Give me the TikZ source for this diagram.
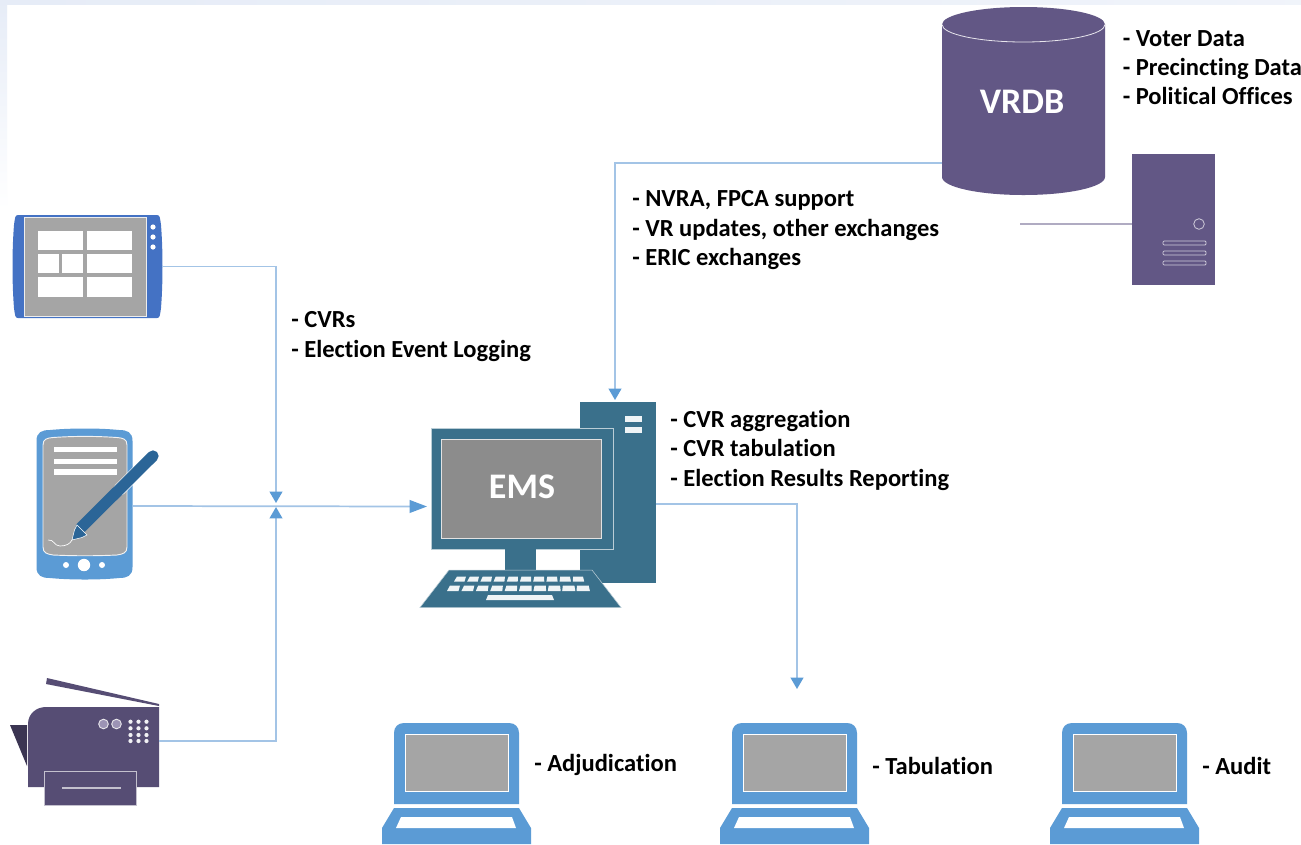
\documentclass[tikz,border=0pt]{standalone}
\usepackage{fontspec}
\setmainfont{Carlito}[Ligatures=NoCommon]
\usetikzlibrary{arrows.meta,fit,calc}
\definecolor{conn}{HTML}{A3C4E6}
\definecolor{tip}{HTML}{5B9BD5}
\definecolor{tabblue}{HTML}{4472C4}
\definecolor{lapblue}{HTML}{5B9BD5}
\definecolor{pendark}{HTML}{2B6597}
\definecolor{scr}{HTML}{A5A5A5}
\definecolor{ems}{HTML}{3A708B}
\definecolor{emsscr}{HTML}{8C8C8C}
\definecolor{vr}{HTML}{625785}
\definecolor{prn}{HTML}{564D74}
\definecolor{prndark}{HTML}{3B3552}
\definecolor{prnlight}{HTML}{9C93B5}
\definecolor{wash}{HTML}{E6ECF7}
\tikzset{
  hit/.style={inner sep=0pt,outer sep=0pt,draw=none},
  link/.style={draw=conn,line width=1.3pt},
  linkhead/.style={link,-{Triangle[length=8.5pt,width=9.5pt,color=tip]}},
  linkheadlong/.style={link,-{Triangle[length=13pt,width=9.5pt,color=tip]}},
  notes/.style={anchor=north west,inner sep=0pt,align=left,font=\fontsize{18.4}{22}\selectfont\bfseries,text=black},
  onenote/.style={anchor=west,inner sep=0pt,font=\fontsize{18.4}{22}\selectfont\bfseries,text=black},
  iconlabel/.style={inner sep=0pt,font=\fontsize{27}{30}\selectfont\bfseries,text=white},
  tile/.style={fill=white,draw=none},
}
\newcommand{\rct}[5]{\fill[#5] (#1,#2) rectangle (#3,#4);}
\newcommand{\laptopicon}[1]{%
  \begin{scope}[shift={(#1,0)}]
    \fill[lapblue] (394,804) -- (394,733) .. controls (394,727) and (398,723) .. (404,723) -- (509,723) .. controls (515,723) and (519,727) .. (519,733) -- (519,804) -- cycle;
    \filldraw[fill=scr,draw=white,line width=.6pt] (405,734) rectangle (508,791);
    \fill[lapblue] (394,808) -- (519,808) -- (531,828) -- (531,844) -- (382,844) -- (382,828) -- cycle;
    \fill[white] (401,817) -- (512,817) -- (516,828) -- (396,828) -- cycle;
  \end{scope}}
\begin{document}
\begin{tikzpicture}[x=0.75pt,y=-0.75pt]
\useasboundingbox (0,0) rectangle (1301,844);
\fill[white] (0,0) rectangle (1301,844);
\fill[top color=wash,bottom color=white] (0,0) rectangle (7,210);
\fill[left color=wash,right color=wash!60!white] (0,0) rectangle (1301,4);

% tablet
\fill[tabblue] (18,215) -- (157,215) .. controls (160,215) and (160,218) .. (161,225) .. controls (163,250) and (163,283) .. (161,308) .. controls (160,315) and (160,318) .. (157,318) -- (18,318) .. controls (15,318) and (15,315) .. (14,308) .. controls (12,283) and (12,250) .. (14,225) .. controls (15,218) and (15,215) .. (18,215) -- cycle;
\filldraw[fill=scr,draw=white!80!scr,line width=.6pt] (24,217) rectangle (146,316);
\rct{38}{231}{83}{250}{tile}\rct{87}{231}{132}{250}{tile}
\rct{38}{254}{59}{273}{tile}\rct{62}{254}{83}{273}{tile}\rct{87}{254}{132}{273}{tile}
\rct{38}{277}{83}{297}{tile}\rct{87}{277}{132}{297}{tile}
\foreach \y in {227,237,247} \fill[white] (153,\y) circle[radius=2.6];
\node[hit,fit={(13,215)(162,318)}] (tablet) {};

% pen device
\fill[lapblue] (36.5,441) .. controls (36.5,432) and (42,430) .. (50,430) .. controls (70,428) and (100,428) .. (119,430) .. controls (127,430) and (132.5,432) .. (132.5,441) -- (132.5,567) .. controls (132.5,576) and (127,578) .. (119,578) .. controls (100,580) and (70,580) .. (50,578) .. controls (42,578) and (36.5,576) .. (36.5,567) -- cycle;
\filldraw[fill=scr,draw=white!85!scr,line width=.7pt] (43,445) .. controls (43,439) and (47,438) .. (53,437.5) .. controls (75,436) and (95,436) .. (117,437.5) .. controls (123,438) and (127,439) .. (127,445) -- (127,547) .. controls (127,553) and (123,554) .. (117,555) .. controls (95,556) and (75,556) .. (53,555) .. controls (47,554) and (43,553) .. (43,547) -- cycle;
\rct{54}{447}{117}{452}{tile}\rct{54}{459}{117}{464}{tile}\rct{54}{469}{117}{475}{tile}
\fill[white] (66,565) circle[radius=3];
\fill[white] (84,565) circle[radius=6.2];
\fill[white] (102,565) circle[radius=3];
\draw[white,line width=.5pt] (48,540) .. controls (54,539) and (54,546) .. (60,546) .. controls (66,546) and (70,544) .. (72,540);
\draw[white,line width=9.5pt,line cap=round] (153,456) -- (120,489);
\draw[pendark,line width=8.5pt,line cap=round] (153,456) -- (81,527.5);
\fill[pendark,draw=white,line width=.4pt] (72,540) -- (74.5,530) -- (77,525) -- (87,535) -- (82,537.5) -- cycle;
\node[hit,fit={(37,430)(133,582)}] (pen) {};

% printer
\fill[prn] (47,678) -- (159,704) -- (159,706) -- (46,684) -- cycle;
\fill[prndark] (10,725) -- (27,725) -- (27,766) -- cycle;
\fill[prn] (28,787) -- (28,724) .. controls (28,714) and (36,707) .. (46,707) -- (159,707) -- (159,787) -- cycle;
\filldraw[fill=prn,draw=white!65!prn,line width=.7pt] (44.5,771) rectangle (136,805);
\draw[white!65!prn,line width=.8pt] (62,788) -- (121,788);
\foreach \x in {103.5,116.5} \filldraw[fill=prnlight,draw=white!85!prn,line width=.7pt] (\x,724) circle[radius=4.8];
\foreach \x in {130.5,138.5,146.5} \foreach \y in {721.7,728.3,735,741} \fill[white!92!prn] (\x,\y) circle[radius=2.1];
\node[hit,fit={(28,695)(159,787)}] (printer) {};

% EMS computer
\fill[ems] (580,402) rectangle (656,583);
\fill[white!92!ems] (625,416) rectangle (642,422);
\fill[white!92!ems] (625,427) rectangle (642,433);
\filldraw[fill=ems,draw=white!65!ems,line width=.5pt] (431,428) rectangle (613,549);
\filldraw[fill=emsscr,draw=white!75!emsscr,line width=.7pt] (441.5,439.5) rectangle (601,538.5);
\fill[ems] (505,549) rectangle (536,570);
\filldraw[fill=ems,draw=white!65!ems,line width=.4pt] (449,570) -- (592,570) -- (621,607.5) -- (420,607.5) -- cycle;
\foreach \i in {0,...,9} {
  \fill[white!92!ems] ({457+\i*12.9},576.5) -- ({466+\i*13},576.5) -- ({464.5+\i*13.3},581.5) -- ({454+\i*13.2},581.5) -- cycle;
  \fill[white!92!ems] ({450+\i*14.1},585.5) -- ({460+\i*14.3},585.5) -- ({458.5+\i*14.6},591) -- ({447+\i*14.4},591) -- cycle;
}
\fill[white!92!ems] (488,595) -- (552,595) -- (554,600) -- (486,600) -- cycle;
\node[iconlabel] (emslabel) at (522,487) {EMS};
\node[hit,fit={(574,400)(656,608)}] (tower) {};
\node[hit,fit={(427,464)(613,549)}] (monitor) {};

% VRDB
\fill[vr] (942,24.5) .. controls (942,14.8) and (978.5,7) .. (1023.5,7) .. controls (1068.5,7) and (1105,14.8) .. (1105,24.5) -- (1105,177) .. controls (1105,187) and (1068.5,195) .. (1023.5,195) .. controls (978.5,195) and (942,187) .. (942,177) -- cycle;
\draw[white!85!vr,line width=.6pt] (942,24.5) .. controls (942,34.2) and (978.5,42) .. (1023.5,42) .. controls (1068.5,42) and (1105,34.2) .. (1105,24.5);
\node[iconlabel] (vrdblabel) at (1022,102) {VRDB};
\node[hit,fit={(942,132)(1105,194)}] (vrdb) {};

% server
\fill[vr] (1132,154) rectangle (1215,285);
\draw[white!70!vr,line width=.6pt] (1199,224) circle[radius=5.3];
\foreach \y in {241,251,261} \draw[white!70!vr,line width=.6pt,rounded corners=.8pt] (1163,\y) rectangle (1206,\y+4);
\node[hit,fit={(1132,154)(1215,294)}] (server) {};
\coordinate (serverend) at (1020,224);

% laptops
\laptopicon{0}
\laptopicon{338}
\laptopicon{668}

% junction coordinates
\coordinate (mergeup) at (276,503);
\coordinate (mergedown) at (276,507);
\coordinate (vrdbturn) at (tower.north |- vrdb.west);
\coordinate (resultsend) at (797,689);

% connectors
\draw[linkhead] (tablet.east) -| (mergeup);
\draw[linkhead] (printer.east) -| (mergedown);
\draw[linkheadlong] (pen.east) -- (monitor.west);
\draw[linkhead] (vrdb.west) -- (vrdbturn) -- (tower.north);
\draw[linkhead] (tower.east) -| (resultsend);
\draw[draw=vr!50!white,line width=1.3pt] (server.west) -- (serverend);

% notes
\node[notes] (n1) at (291,311.5) {- CVRs\\- Election Event Logging};
\node[notes] (n2) at (632,190.5) {- NVRA, FPCA support\\- VR updates, other exchanges\\- ERIC exchanges};
\node[notes] (n3) at (670,410) {- CVR aggregation\\- CVR tabulation\\- Election Results Reporting};
\node[notes] (n4) at (1122.5,30) {- Voter Data\\- Precincting Data\\- Political Offices};
\node[onenote] (adj) at (534,764.5) {- Adjudication};
\node[onenote] (tab) at (872,766) {- Tabulation};
\node[onenote] (aud) at (1202,766) {- Audit};
\end{tikzpicture}
\end{document}
